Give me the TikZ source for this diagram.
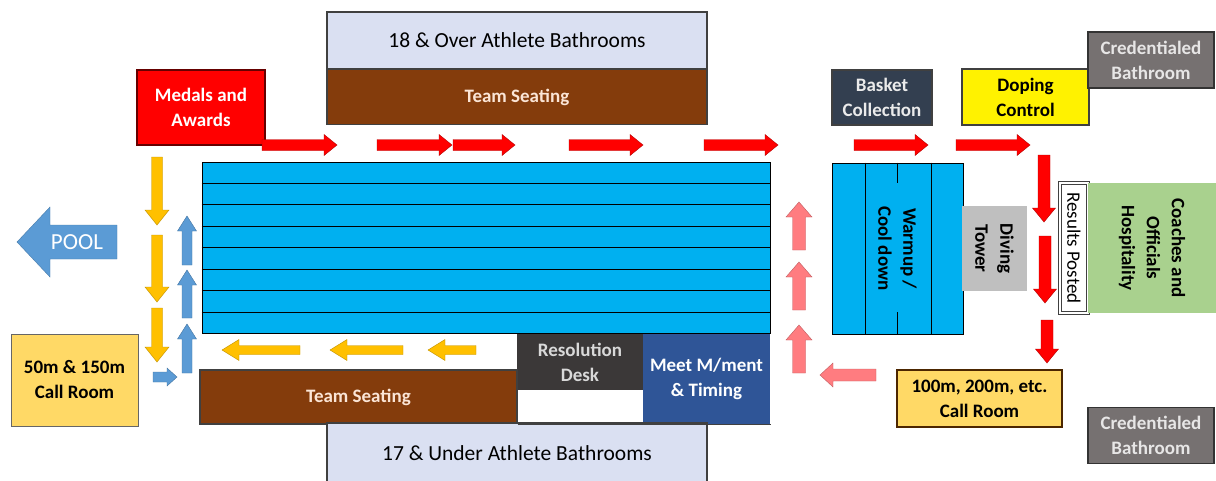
\documentclass[tikz,border=0pt]{standalone}
\usepackage{fontspec}
\setmainfont{Carlito}
\usetikzlibrary{positioning, calc}

\definecolor{seatbrown}{HTML}{843C0C}
\definecolor{seattext}{HTML}{FBE5D6}
\definecolor{bathlav}{HTML}{DAE0F2}
\definecolor{flowred}{HTML}{FF0000}
\definecolor{laneblue}{HTML}{00B0F0}
\definecolor{flowyellow}{HTML}{FFC000}
\definecolor{flowblue}{HTML}{5B9BD5}
\definecolor{flowpink}{HTML}{FF7C80}
\definecolor{callyellow}{HTML}{FFD966}
\definecolor{basketslate}{HTML}{333F50}
\definecolor{credgray}{HTML}{767171}
\definecolor{credtext}{HTML}{E7E6E6}
\definecolor{deskgray}{HTML}{3B3838}
\definecolor{meetblue}{HTML}{2F5597}
\definecolor{divegray}{HTML}{BFBFBF}
\definecolor{hospgreen}{HTML}{A9D18E}

\tikzset{
  pics/flowarr/.style args={#1/#2/#3/#4}{code={
    \path[pic actions] (0,-#2) -- ({#1-#4},-#2) -- ({#1-#4},-#3) -- (#1,0)
      -- ({#1-#4},#3) -- ({#1-#4},#2) -- (0,#2) -- cycle;
  }}
}

\begin{document}
\begin{tikzpicture}[x=1pt, y=-1pt,
  area/.style={draw=black!75, line width=1.2pt, align=center, inner sep=2pt,
    font=\fontsize{19}{25}\selectfont\bfseries},
  bath/.style={area, fill=bathlav, minimum width=380pt, minimum height=57pt,
    font=\fontsize{21.5}{25}\selectfont},
  seat/.style={area, fill=seatbrown, text=seattext, minimum height=55pt},
  cred/.style={area, fill=credgray, text=credtext, draw=black!80, line width=1.8pt,
    minimum width=126pt, minimum height=56pt},
  lane/.style={line width=0.8pt},
  redflow/.style={fill=flowred, draw=flowred!70!black, line width=0.4pt},
  yellowflow/.style={fill=flowyellow, draw=flowyellow!75!black, line width=0.4pt},
  blueflow/.style={fill=flowblue, draw=flowblue!75!black, line width=0.4pt},
  pinkflow/.style={fill=flowpink, draw=flowpink!75!black, line width=0.4pt}
]
  \clip (0,0) rectangle (1216,480);

  % top side
  \node[bath] (bathover) at (517,40.5) {18 \& Over Athlete Bathrooms};
  \node[seat, minimum width=380pt] (seattop) at (517,97) {Team Seating};
  \node[area, fill=flowred, draw=black!60!red, text=white, minimum width=128pt, minimum height=75pt] (medals) at (201,107.5) {Medals and\\Awards};
  \node[area, fill=basketslate, text=white!92!black, minimum width=100pt, minimum height=55pt] (basket) at (882,97.5) {Basket\\Collection};
  \node[area, fill=yellow, minimum width=127pt, minimum height=56pt] (doping) at (1025.5,97) {Doping\\Control};
  \node[cred] (credtop) at (1151,60) {Credentialed\\Bathroom};

  % competition pool
  \node[draw, fill=laneblue, lane, minimum width=568pt, minimum height=171pt, inner sep=0pt] (pool) at (486,247.5) {};
  \foreach \k in {1,...,7}
    \draw[lane] ($(pool.north west)!\k/8!(pool.south west)$) -- ($(pool.north east)!\k/8!(pool.south east)$);

  % warm-up pool
  \node[draw, fill=laneblue, lane, minimum width=131pt, minimum height=171pt, inner sep=0pt] (warmup) at (897.5,248.5) {};
  \draw[lane] ($(warmup.north west)!0.26!(warmup.north east)$) -- ($(warmup.south west)!0.26!(warmup.south east)$);
  \draw[lane] ($(warmup.north west)!0.755!(warmup.north east)$) -- ($(warmup.south west)!0.755!(warmup.south east)$);
  \draw[lane] (warmup.north) -- ++(0,20);
  \draw[lane] (warmup.south) -- ++(0,-22);
  \node[rotate=-90, align=center, font=\fontsize{19}{25}\selectfont\bfseries] (warmtext) at (warmup.center) {Warmup /\\Cool down};

  % right side
  \node[area, draw=none, fill=divegray, rotate=-90, minimum width=85pt, minimum height=65pt] (diving) at (994.5,248.5) {Diving\\Tower};
  \node[area, fill=white, double, double distance=1.5pt, line width=0.8pt, rotate=-90, minimum width=130pt, minimum height=28pt, inner sep=0pt, font=\fontsize{19}{23}\selectfont] (results) at (1074,248) {Results Posted};
  \node[area, draw=none, fill=hospgreen, rotate=-90, minimum width=130pt, minimum height=128pt] (hosp) at (1152,248) {Coaches and\\Officials\\Hospitality};
  \node[area, fill=callyellow, draw=black!70!orange, minimum width=165pt, minimum height=57pt] (callbig) at (979.5,398.5) {100m, 200m, etc.\\Call Room};
  \node[cred] (credbot) at (1151,435.5) {Credentialed\\Bathroom};

  % bottom side
  \node[area, fill=meetblue, text=white, draw=none, minimum width=127pt, minimum height=90pt] (meet) at (706.5,379) {Meet M/ment\\\& Timing};
  \node[area, fill=deskgray, text=white!85!black, draw=none, minimum width=126pt, minimum height=56pt] (desk) at (580,362) {Resolution\\Desk};
  \node[seat, minimum width=317pt, minimum height=54pt] (seatbot) at (358.5,397) {Team Seating};
  \node[bath, minimum height=60pt] (bathunder) at (517,453) {17 \& Under Athlete Bathrooms};
  \draw[line width=1.2pt, black!75] (seatbot.south east) -- (meet.south east);
  \node[area, fill=callyellow, draw=black!60, line width=0.8pt, minimum width=127pt, minimum height=92pt] (callsmall) at (74.5,380) {50m \& 150m\\Call Room};

  % flow arrows
  \foreach \px/\len in {262/75, 377/75, 453/62, 569/74, 704/74, 854/74, 956/74}
    \pic[redflow] at (\px,145) {flowarr=\len/5.5/10.5/13};
  \foreach \px/\py/\len in {1044/155/67, 1045/236/67, 1047/320/43}
    \pic[redflow, rotate=-90] at (\px,\py) {flowarr=\len/6/11.5/14};
  \foreach \py/\len in {157/68, 235/67, 308/54}
    \pic[yellowflow, rotate=-90] at (157,\py) {flowarr=\len/5.5/12/15};
  \foreach \py/\len in {265/49, 318/48, 373/49}
    \pic[blueflow, rotate=90] at (187,\py) {flowarr=\len/5/9.5/15};
  \pic[blueflow] at (153,377) {flowarr=24/5/9/10};
  \foreach \px/\len in {300/78, 403/73, 476/48}
    \pic[yellowflow, rotate=180] at (\px,350) {flowarr=\len/4.5/10.5/17};
  \foreach \py/\len in {373/48, 310/48, 250/48}
    \pic[pinkflow, rotate=90] at (799,\py) {flowarr=\len/6.5/13/15};
  \pic[pinkflow, rotate=180] at (876,375) {flowarr=56/6/12/13};

  % pool sign
  \pic[fill=flowblue, draw=flowblue!80!black, rotate=180] at (117,242) {flowarr=100/17/35/33};
  \node[text=white, font=\fontsize{23}{26}\selectfont] (poolsign) at (77,242) {POOL};
\end{tikzpicture}
\end{document}
